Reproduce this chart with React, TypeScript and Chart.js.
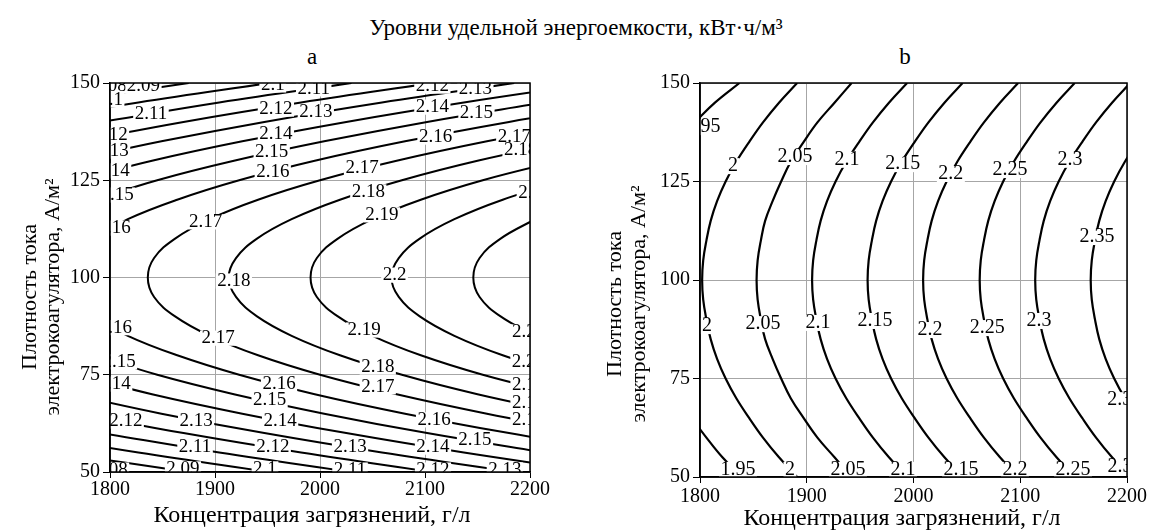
import React, { useEffect, useRef } from "react";
import { Chart, registerables } from "chart.js";
Chart.register(...registerables);

const FONT = '"Liberation Serif", "Times New Roman", Times, serif';
const _ = null;

// Current density grid (A/m^2) on which contour positions were read
const J_GRID = [50, 55, 60, 65, 70, 75, 80, 85, 90, 95, 100, 105, 110, 115, 120, 125, 130, 135, 140, 145, 150];
const X_TICKS = [1800, 1900, 2000, 2100, 2200];
const Y_TICKS = [50, 75, 100, 125, 150];

// Panel a: concentration (g/l) of each contour at J_GRID
const A_208 = [1797, 1672, _, _, _, _, _, _, _, _, _, _, _, _, _, _, _, _, _, 1672, 1797];
const A_209 = [1875, 1749, _, _, _, _, _, _, _, _, _, _, _, _, _, _, _, _, _, 1749, 1875];
const A_210 = [1952, 1827, 1715, _, _, _, _, _, _, _, _, _, _, _, _, _, _, _, 1715, 1827, 1952];
const A_211 = [2030, 1904, 1792, _, _, _, _, _, _, _, _, _, _, _, _, _, _, _, 1792, 1904, 2030];
const A_212 = [2107, 1982, 1870, 1771, _, _, _, _, _, _, _, _, _, _, _, _, _, 1771, 1870, 1982, 2107];
const A_213 = [2185, 2059, 1947, 1849, 1763, _, _, _, _, _, _, _, _, _, _, _, 1763, 1849, 1947, 2059, 2185];
const A_214 = [2262, 2137, 2025, 1926, 1840, 1768, _, _, _, _, _, _, _, _, _, 1768, 1840, 1926, 2025, 2137, 2262];
const A_215 = [_, 2214, 2102, 2004, 1918, 1845, 1786, _, _, _, _, _, _, _, 1786, 1845, 1918, 2004, 2102, 2214, _];
const A_216 = [_, 2292, 2180, 2081, 1995, 1923, 1864, 1817, 1785, _, _, _, 1785, 1817, 1864, 1923, 1995, 2081, 2180, 2292, _];
const A_217 = [_, _, 2257, 2159, 2073, 2000, 1941, 1895, 1862, 1842, 1836, 1842, 1862, 1895, 1941, 2000, 2073, 2159, 2257, _, _];
const A_218 = [_, _, _, 2236, 2150, 2078, 2019, 1973, 1940, 1920, 1913, 1920, 1940, 1973, 2019, 2078, 2150, 2236, _, _, _];
const A_219 = [_, _, _, _, 2228, 2155, 2096, 2050, 2017, 1997, 1991, 1997, 2017, 2050, 2096, 2155, 2228, _, _, _, _];
const A_220 = [_, _, _, _, _, 2233, 2174, 2128, 2095, 2075, 2068, 2075, 2095, 2128, 2174, 2233, _, _, _, _, _];
const A_221 = [_, _, _, _, _, _, _, 2205, 2172, 2152, 2146, 2152, 2172, 2205, _, _, _, _, _, _, _];
const A_CONTOURS = [A_208, A_209, A_210, A_211, A_212, A_213, A_214, A_215, A_216, A_217, A_218, A_219, A_220, A_221];

// Panel b
const B_195 = [1839, 1821, 1806, 1792, _, _, _, _, _, _, _, _, _, _, _, _, _, _, 1795, 1814, 1837];
const B_200 = [1891, 1874, 1859, 1846, 1834, 1824, 1816, 1810, 1806, 1803, 1802, 1803, 1806, 1810, 1816, 1824, 1834, 1846, 1859, 1874, 1891];
const B_205 = [1942, 1926, 1910, 1897, 1885, 1876, 1868, 1861, 1857, 1854, 1853, 1854, 1857, 1861, 1868, 1876, 1885, 1897, 1910, 1926, 1942];
const B_210 = [1994, 1977, 1962, 1949, 1937, 1927, 1919, 1913, 1909, 1906, 1905, 1906, 1909, 1913, 1919, 1927, 1937, 1949, 1962, 1977, 1994];
const B_215 = [2046, 2029, 2014, 2001, 1989, 1979, 1971, 1965, 1961, 1958, 1957, 1958, 1961, 1965, 1971, 1979, 1989, 2001, 2014, 2029, 2046];
const B_220 = [2098, 2081, 2066, 2053, 2041, 2031, 2023, 2017, 2013, 2010, 2009, 2010, 2013, 2017, 2023, 2031, 2041, 2053, 2066, 2081, 2098];
const B_225 = [2151, 2134, 2119, 2106, 2094, 2084, 2076, 2070, 2066, 2063, 2062, 2063, 2066, 2070, 2076, 2084, 2094, 2106, 2119, 2134, 2151];
const B_230 = [2203, 2186, 2171, 2158, 2146, 2136, 2128, 2122, 2118, 2115, 2114, 2115, 2118, 2122, 2128, 2136, 2146, 2158, 2171, 2186, 2203];
const B_235 = [_, _, _, 2210, 2198, 2188, 2180, 2174, 2170, 2167, 2166, 2167, 2170, 2174, 2180, 2188, 2198, 2210, _, _, _];
const B_CONTOURS = [B_195, B_200, B_205, B_210, B_215, B_220, B_225, B_230, B_235];

// Inline contour labels: [concentration, current density, text]
const A_LABELS: [number, number, string][] = [
  [1800, 149.2, "2.08"], [1831.9, 149.2, "2.09"], [1801, 145.6, "2.1"], [1839, 142.0, "2.11"],
  [1955, 149.5, "2.1"], [1958, 143.3, "2.12"], [1994, 148.5, "2.11"], [1801, 136.6, "2.12"],
  [1958, 136.9, "2.14"], [1802, 132.5, "2.13"], [1954, 132.3, "2.15"], [2107, 149.2, "2.12"],
  [2148, 148.5, "2.13"], [1996, 142.5, "2.13"], [2107, 143.8, "2.14"], [2149, 142.3, "2.15"],
  [1803, 127.4, "2.14"], [1806.8, 121.2, "2.15"], [1804, 112.7, "2.16"], [1955, 127.1, "2.16"],
  [2040, 128.1, "2.17"], [2110, 136.1, "2.16"], [2185, 136.1, "2.17"], [2191, 132.8, "2.18"],
  [2046, 122.0, "2.18"], [2200, 121.7, "2.2"], [2059, 116.1, "2.19"], [2071, 100.6, "2.2"],
  [1891, 114.3, "2.17"], [1918, 99.1, "2.18"],
  [1805, 87.1, "2.16"], [1903, 84.4, "2.17"], [1808.6, 78.3, "2.15"], [1804, 72.6, "2.14"],
  [1961, 72.6, "2.16"], [1952, 68.5, "2.15"], [1815, 63.1, "2.12"], [1882, 63.1, "2.13"],
  [1962, 63.1, "2.14"], [1881, 56.4, "2.11"], [1955, 56.4, "2.12"], [1801, 50.5, "2.08"],
  [1869.5, 50.8, "2.09"], [1947.6, 50.8, "2.1"], [2042, 86.5, "2.19"], [2198.6, 86.0, "2.21"],
  [2055, 77.0, "2.18"], [2194, 78.3, "2.2"], [2055, 71.9, "2.17"], [2198.6, 72.4, "2.19"],
  [2198.6, 67.7, "2.18"], [2198.6, 63.4, "2.17"], [2028.6, 56.4, "2.13"], [2108.6, 63.4, "2.16"],
  [2107.6, 56.4, "2.14"], [2147.6, 58.2, "2.15"], [2028.6, 50.5, "2.11"], [2107.6, 50.5, "2.12"],
  [2176, 50.5, "2.13"],
];
const B_LABELS: [number, number, string][] = [
  [1802.8, 138.8, "1.95"], [1831, 128.9, "2"], [1889, 131.2, "2.05"], [1937.7, 130.5, "2.1"],
  [1990, 129.4, "2.15"], [2035, 126.9, "2.2"], [2090.4, 127.9, "2.25"], [2146.6, 130.5, "2.3"],
  [2172, 110.9, "2.35"],
  [1806.6, 88.3, "2"], [1859, 88.8, "2.05"], [1910.5, 89.1, "2.1"], [1964, 89.6, "2.15"],
  [2015.5, 87.3, "2.2"], [2069, 87.8, "2.25"], [2117.6, 89.6, "2.3"], [2198, 69.5, "2.35"],
  [1835.6, 51.8, "1.95"], [1884.3, 51.8, "2"], [1938.6, 51.8, "2.05"], [1990.2, 51.8, "2.1"],
  [2044.5, 51.8, "2.15"], [2095, 51.8, "2.2"], [2149.4, 51.8, "2.25"], [2193.4, 52.5, "2.3"],
];

const TITLE = "Уровни удельной энергоемкости, кВт·ч/м³";
const X_TITLE = "Концентрация загрязнений, г/л";
const Y_TITLE = ["Плотность тока", "электрокоагулятора, А/м²"];

type Panel = {
  contours: (number | null)[][];
  labels: [number, number, string][];
  yWidth: number;
  xHeight: number;
  padRight: number;
  labelSize: number;
  lineWidth: number;
  tickPadX: number;
  xTitleAt: [number, number];
  yTitleX: [number, number];
  yTitleY: number;
};

function decorPlugin(p: Panel) {
  return {
    id: "contourDecor",
    afterDatasetsDraw(chart: any) {
      const { ctx, chartArea: a, scales } = chart;
      ctx.save();
      ctx.beginPath();
      ctx.rect(a.left, a.top, a.right - a.left, a.bottom - a.top);
      ctx.clip();
      ctx.font = `${p.labelSize}px ${FONT}`;
      ctx.textAlign = "center";
      ctx.textBaseline = "middle";
      for (const [c, j, t] of p.labels) {
        const x = scales.x.getPixelForValue(c);
        const y = scales.y.getPixelForValue(j);
        const w = ctx.measureText(t).width;
        ctx.fillStyle = "#fff";
        ctx.fillRect(x - w / 2 - 1.5, y - p.labelSize * 0.4, w + 3, p.labelSize * 0.8);
        ctx.fillStyle = "#000";
        ctx.fillText(t, x, y);
      }
      ctx.restore();
      ctx.save();
      ctx.strokeStyle = "#000";
      ctx.lineWidth = 1.5;
      ctx.strokeRect(a.left, a.top, a.right - a.left, a.bottom - a.top);
      ctx.restore();
    },
    afterDraw(chart: any) {
      const { ctx } = chart;
      ctx.save();
      ctx.fillStyle = "#000";
      ctx.textAlign = "center";
      ctx.textBaseline = "middle";
      ctx.font = `24px ${FONT}`;
      ctx.fillText(X_TITLE, p.xTitleAt[0], p.xTitleAt[1]);
      ctx.font = `22px ${FONT}`;
      Y_TITLE.forEach((line, i) => {
        ctx.save();
        ctx.translate(p.yTitleX[i], p.yTitleY);
        ctx.rotate(-Math.PI / 2);
        ctx.fillText(line, 0, 0);
        ctx.restore();
      });
      ctx.restore();
    },
  };
}

function buildConfig(p: Panel): any {
  const tickFont = { family: FONT, size: 20, lineHeight: 1 };
  return {
    type: "line",
    data: {
      datasets: p.contours.map((arr) => ({
        data: J_GRID.map((j, i) => ({ x: arr[i], y: j })),
        borderColor: "#000",
        borderWidth: p.lineWidth,
        pointRadius: 0,
        tension: 0.4,
        fill: false,
        spanGaps: false,
      })),
    },
    options: {
      animation: false,
      responsive: false,
      maintainAspectRatio: false,
      layout: { padding: { left: 0, top: 83, right: p.padRight, bottom: 0 } },
      plugins: { legend: { display: false }, tooltip: { enabled: false }, title: { display: false } },
      scales: {
        x: {
          type: "linear",
          min: 1800,
          max: 2200,
          afterBuildTicks: (s: any) => {
            s.ticks = X_TICKS.map((v) => ({ value: v }));
          },
          afterFit: (s: any) => {
            s.height = p.xHeight;
          },
          ticks: { color: "#000", font: tickFont, padding: p.tickPadX, maxRotation: 0, autoSkip: false, callback: (v: any) => String(v) },
          grid: { color: "#a6a6a6", lineWidth: 1, tickColor: "#000", tickLength: 6 },
          border: { color: "#000", width: 1.5 },
          title: { display: false },
        },
        y: {
          type: "linear",
          min: 50,
          max: 150,
          afterBuildTicks: (s: any) => {
            s.ticks = Y_TICKS.map((v) => ({ value: v }));
          },
          afterFit: (s: any) => {
            s.width = p.yWidth;
          },
          ticks: { color: "#000", font: tickFont, padding: 3, autoSkip: false, callback: (v: any) => String(v) },
          grid: { color: "#a6a6a6", lineWidth: 1, tickColor: "#000", tickLength: 7 },
          border: { color: "#000", width: 1.5 },
          title: { display: false },
        },
      },
    },
    plugins: [decorPlugin(p)],
  };
}

const PANEL_A: Panel = {
  contours: A_CONTOURS, labels: A_LABELS, yWidth: 110, xHeight: 60, padRight: 46,
  labelSize: 19, lineWidth: 2, tickPadX: 2,
  xTitleAt: [312, 516], yTitleX: [30, 53], yTitleY: 297,
};
const PANEL_B: Panel = {
  contours: B_CONTOURS, labels: B_LABELS, yWidth: 124, xHeight: 55, padRight: 25,
  labelSize: 20, lineWidth: 2.2, tickPadX: 4,
  xTitleAt: [326, 519], yTitleX: [39, 63], yTitleY: 304,
};

export default function App() {
  const refA = useRef<HTMLCanvasElement>(null);
  const refB = useRef<HTMLCanvasElement>(null);
  useEffect(() => {
    const ca = new Chart(refA.current as HTMLCanvasElement, buildConfig(PANEL_A));
    const cb = new Chart(refB.current as HTMLCanvasElement, buildConfig(PANEL_B));
    return () => {
      ca.destroy();
      cb.destroy();
    };
  }, []);
  const txt: React.CSSProperties = { position: "absolute", fontFamily: FONT, fontSize: 23, lineHeight: "26px", color: "#000", whiteSpace: "nowrap" };
  return (
    <div style={{ position: "absolute", left: 0, top: 0, width: 1152, height: 532, background: "#fff", overflow: "hidden" }}>
      <div style={{ ...txt, left: 0, width: 1152, top: 15, textAlign: "center" }}>{TITLE}</div>
      <div style={{ ...txt, left: 312, top: 44, transform: "translateX(-50%)" }}>a</div>
      <div style={{ ...txt, left: 905, top: 44, transform: "translateX(-50%)" }}>b</div>
      <canvas ref={refA} width={576} height={532} style={{ position: "absolute", left: 0, top: 0, width: 576, height: 532 }} />
      <canvas ref={refB} width={576} height={532} style={{ position: "absolute", left: 576, top: 0, width: 576, height: 532 }} />
    </div>
  );
}
